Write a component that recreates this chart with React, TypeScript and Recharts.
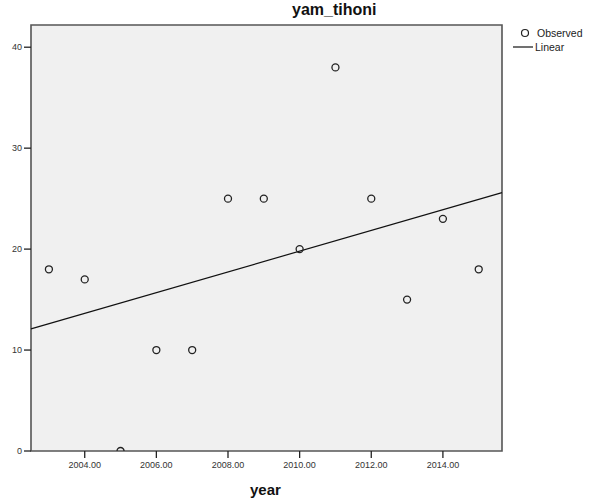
import React from 'react';
import {
  ScatterChart,
  Scatter,
  XAxis,
  YAxis,
  ReferenceArea,
  ReferenceLine,
} from 'recharts';

const years = [2003, 2004, 2005, 2006, 2007, 2008, 2009, 2010, 2011, 2012, 2013, 2014, 2015];
const observed = [18, 17, 0, 10, 10, 25, 25, 20, 38, 25, 15, 23, 18];
const xTicks = [2004, 2006, 2008, 2010, 2012, 2014];
const yTicks = [0, 10, 20, 30, 40];
const xDomain = [2002.5, 2015.65];
const yDomain = [0, 42.2];
const fitX = [2002.5, 2015.65];
const fitY = [12.1, 25.6];

const points = years.map((x, i) => ({ x, y: observed[i] }));

const FONT = '"Liberation Sans", Arial, sans-serif';
const R = 3.5;

const Ring = (props: any) => {
  const { cx, cy, payload } = props;
  if (cx == null || cy == null) return null;
  const onFloor = payload && payload.y <= yDomain[0];
  if (onFloor) {
    // plot area clips the lower half of a point sitting on the floor
    return (
      <path
        d={`M ${cx - R} ${cy} A ${R} ${R} 0 0 1 ${cx + R} ${cy}`}
        fill="none"
        stroke="#222"
        strokeWidth={1.3}
      />
    );
  }
  return <circle cx={cx} cy={cy} r={R} fill="none" stroke="#222" strokeWidth={1.3} />;
};

export default function App() {
  return (
    <div style={{ position: 'absolute', left: 0, top: 0, width: 589, height: 502, background: '#fff' }}>
      <ScatterChart width={589} height={502} margin={{ top: 25, right: 87, bottom: 0, left: 0 }}>
        <ReferenceArea
          x1={xDomain[0]}
          x2={xDomain[1]}
          y1={yDomain[0]}
          y2={yDomain[1]}
          fill="#f0f0f0"
          fillOpacity={1}
          stroke="#555"
          strokeWidth={1.6}
          ifOverflow="visible"
        />
        <XAxis
          type="number"
          dataKey="x"
          domain={xDomain}
          ticks={xTicks}
          allowDataOverflow
          height={51}
          tickSize={7}
          tickMargin={4}
          axisLine={false}
          tickLine={{ stroke: '#222', strokeWidth: 1.3 }}
          tickFormatter={(v: number) => v.toFixed(2)}
          tick={{ fontSize: 9, fill: '#333', fontFamily: FONT }}
        />
        <YAxis
          type="number"
          dataKey="y"
          domain={yDomain}
          ticks={yTicks}
          allowDataOverflow
          width={31}
          tickSize={7}
          tickMargin={2}
          axisLine={false}
          tickLine={{ stroke: '#222', strokeWidth: 1.3 }}
          tick={{ fontSize: 9, fill: '#333', fontFamily: FONT }}
        />
        <ReferenceLine
          segment={[
            { x: fitX[0], y: fitY[0] },
            { x: fitX[1], y: fitY[1] },
          ]}
          stroke="#111"
          strokeWidth={1.2}
          ifOverflow="visible"
        />
        <Scatter data={points} shape={Ring} isAnimationActive={false} />
      </ScatterChart>

      <div
        style={{
          position: 'absolute',
          left: 292,
          top: 2,
          fontFamily: FONT,
          fontWeight: 'bold',
          fontSize: 16,
          lineHeight: '16px',
          color: '#111',
          whiteSpace: 'nowrap',
        }}
      >
        yam_tihoni
      </div>

      <div
        style={{
          position: 'absolute',
          left: 250,
          top: 482,
          fontFamily: FONT,
          fontWeight: 'bold',
          fontSize: 15,
          lineHeight: '15px',
          color: '#111',
          whiteSpace: 'nowrap',
        }}
      >
        year
      </div>

      <svg style={{ position: 'absolute', left: 505, top: 24 }} width={84} height={32}>
        <circle cx={20} cy={9} r={3.5} fill="none" stroke="#222" strokeWidth={1.2} />
        <text x={32} y={12.5} fontFamily={FONT} fontSize={10.5} fill="#222">
          Observed
        </text>
        <line x1={8} x2={28} y1={23} y2={23} stroke="#111" strokeWidth={1.2} />
        <text x={30} y={26.5} fontFamily={FONT} fontSize={10.5} fill="#222">
          Linear
        </text>
      </svg>
    </div>
  );
}
